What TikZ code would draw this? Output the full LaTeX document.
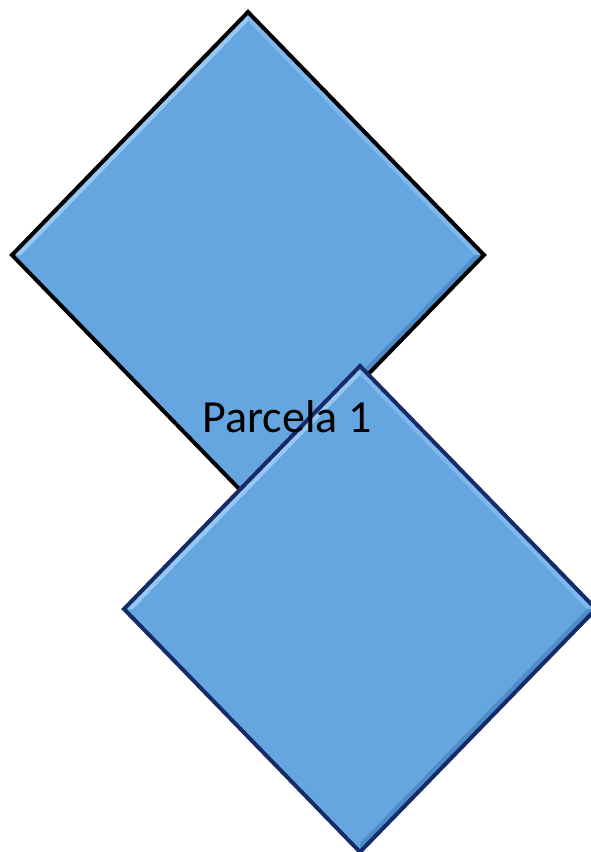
\documentclass[tikz,border=0pt]{standalone}
\usepackage{fontspec}
\setmainfont{Carlito}
\usetikzlibrary{math}
\definecolor{myfill}{RGB}{102, 166, 224}
\definecolor{mylight}{RGB}{150, 200, 242}
\definecolor{mymid}{RGB}{126, 184, 236}
\definecolor{mydark}{RGB}{80, 140, 202}
\definecolor{mynavy}{RGB}{22, 44, 104}

\begin{document}
\begin{tikzpicture}[x=1pt, y=-1pt]
\tikzmath{
\W=236;
\H=243;
\d=9;
}
\useasboundingbox (0,0) rectangle (590,852);

\foreach \cx/\cy/\col in {248/255/black, 360/609/mynavy}{
  \fill[myfill] (\cx,\cy-\H) -- (\cx+\W,\cy) -- (\cx,\cy+\H) -- (\cx-\W,\cy) -- cycle;
  % bevel
  \fill[mylight] (\cx-\W,\cy) -- (\cx,\cy-\H) -- (\cx,\cy-\H+\d) -- (\cx-\W+\d,\cy) -- cycle;
  \fill[mymid] (\cx,\cy-\H) -- (\cx+\W,\cy) -- (\cx+\W-\d,\cy) -- (\cx,\cy-\H+\d) -- cycle;
  \fill[mydark] (\cx+\W,\cy) -- (\cx,\cy+\H) -- (\cx,\cy+\H-\d) -- (\cx+\W-\d,\cy) -- cycle;
  \draw[\col, line width=4, line join=miter] (\cx,\cy-\H) -- (\cx+\W,\cy) -- (\cx,\cy+\H) -- (\cx-\W,\cy) -- cycle;
}

\node[font=\fontsize{46}{50}\selectfont, inner sep=0] (lbl) at (287,417) {Parcela 1};

\end{tikzpicture}
\end{document}
